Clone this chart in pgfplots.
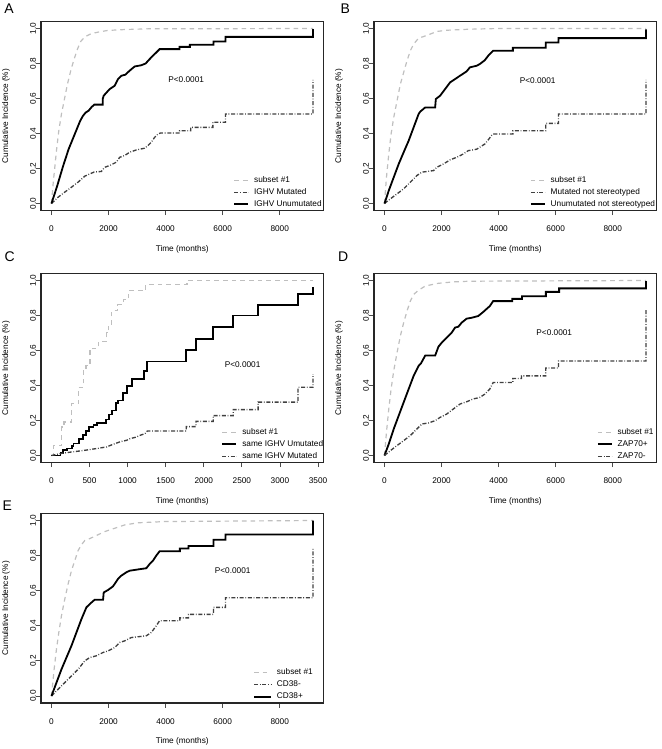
\documentclass[border=0pt]{standalone}
\usepackage{fontspec}
\setmainfont{Liberation Sans}
\usepackage{pgfplots}
\pgfplotsset{compat=1.18}

\tikzset{letter/.style={font=\fontsize{10.5}{12}\selectfont},
  frame/.style={black!85, line width=0.9pt, line cap=rect}}
\pgfplotsset{
  km/.style={
    scale only axis, width=211.875pt, height=141.75pt, anchor=south west,
    ymin=-0.04, ymax=1.04, ytick={0,0.2,0.4,0.6,0.8,1},
    separate axis lines,
    tick pos=left, tick align=outside, major tick length=3.5pt,
    every major tick/.append style={black!70, line width=0.6pt},
    axis line style={black!85, line width=0.9pt},
    font=\fontsize{6.2}{7.4}\selectfont,
    /pgf/number format/assume math mode=true,
    scaled ticks=false,
    xticklabel style={inner sep=0pt, anchor=north, /pgf/number format/1000 sep={}},
    yticklabel style={rotate=90, anchor=south, inner sep=0pt,
      /pgf/number format/.cd, fixed, fixed zerofill, precision=1},
    xticklabel shift=7.75pt, yticklabel shift=0pt,
    xlabel={Time (months)}, ylabel={Cumulative Incidence (\%)},
    xlabel style={at={(axis description cs:0.5,-0.2037)}, anchor=center, inner sep=0pt},
    ylabel style={at={(axis description cs:-0.124,0.5)}, anchor=center, inner sep=0pt},
    legend cell align=left,
    legend style={draw=none, fill=none, inner sep=0pt, row sep=0pt, column sep=3.75pt,
      nodes={inner xsep=0pt, inner ysep=1.15pt, text height=5pt, text depth=1.7pt}},
    legend image code/.code={\draw[##1] (0pt,0pt) -- (10.5pt,0pt);},
  },
  long/.style={xmin=-367, xmax=9533, xtick={0,2000,4000,6000,8000}},
  subset/.style={gray!50, line width=0.9pt, dash pattern=on 3.5pt off 3pt},
  mut/.style={black!75, line width=1pt, dash pattern=on 3pt off 1.3pt on 0.6pt off 1.3pt},
  unmut/.style={black, line width=1.35pt},
  longimg/.style={legend image code/.code={\draw[##1] (0pt,0pt) -- (12.75pt,0pt);}},
}

\begin{document}
\begin{tikzpicture}
\path[use as bounding box] (0,0) rectangle (495.75pt,561.75pt);
% panel frames
\draw[frame] (30.75pt,403.875pt) -- (242.625pt,403.875pt) -- (242.625pt,545.625pt) -- (30.75pt,545.625pt) -- (30.75pt,403.875pt);
\draw[frame] (280.5pt,403.875pt) -- (492.375pt,403.875pt) -- (492.375pt,545.625pt) -- (280.5pt,545.625pt) -- (280.5pt,403.875pt);
\draw[frame] (30.75pt,214.875pt) -- (242.625pt,214.875pt) -- (242.625pt,356.625pt) -- (30.75pt,356.625pt) -- (30.75pt,214.875pt);
\draw[frame] (280.5pt,214.875pt) -- (492.375pt,214.875pt) -- (492.375pt,356.625pt) -- (280.5pt,356.625pt) -- (280.5pt,214.875pt);
\draw[frame] (30.75pt,34.5pt) -- (242.625pt,34.5pt) -- (242.625pt,176.625pt) -- (30.75pt,176.625pt) -- (30.75pt,34.5pt);

% ---------------- A
\begin{axis}[km, long, at={(30.75pt,403.875pt)},
  legend style={at={(axis description cs:0.680,0)}, anchor=south west},
  extra description/.code={\node[letter] at (axis description cs:-0.113,1.070) {A};}]
\addplot[subset] coordinates {(0,0) (58,0.112) (175,0.302) (257,0.416) (350,0.511) (443,0.587)
  (560,0.682) (676,0.759) (793,0.825) (910,0.882) (1026,0.926) (1166,0.952) (1399,0.971)
  (1691,0.981) (1983,0.989) (2566,0.994) (3382,0.998) (9166,1.0)};
\addlegendentry{subset \#1}
\addplot[mut] coordinates {(0,0) (233,0.036) (466,0.065) (700,0.093) (933,0.122) (1166,0.156)
  (1399,0.173) (1500,0.18) (1749,0.183) (1866,0.207) (2041,0.217) (2274,0.236) (2391,0.264)
  (2566,0.274) (2741,0.293) (2974,0.306) (3265,0.316) (3382,0.331) (3499,0.35) (3615,0.378)
  (3732,0.397) (3825,0.403) (4490,0.403) (4490,0.416) (4880,0.416) (4880,0.435) (5656,0.435)
  (5656,0.464) (6099,0.464) (6099,0.511) (9166,0.511) (9166,0.707)};
\addlegendentry{IGHV Mutated}
\addplot[unmut] coordinates {(0,0) (200,0.10) (400,0.21) (600,0.31) (800,0.39) (1000,0.47)
  (1100,0.50) (1200,0.52) (1300,0.53) (1400,0.55) (1500,0.565) (1800,0.565) (1800,0.60)
  (1830,0.616) (2041,0.654) (2216,0.673) (2332,0.711) (2449,0.73) (2589,0.736) (2740,0.759)
  (2915,0.783) (3149,0.79) (3300,0.80) (3440,0.825) (3560,0.845) (3673,0.863) (3790,0.882)
  (4490,0.882) (4490,0.895) (4850,0.895) (4850,0.907) (5680,0.907) (5680,0.926) (6100,0.926)
  (6100,0.952) (9166,0.952) (9166,0.996)};
\addlegendentry{IGHV Unumutated}
\node at (axis cs:4720,0.71) {P<0.0001};
\end{axis}

% ---------------- B
\begin{axis}[km, long, at={(280.5pt,403.875pt)},
  legend style={at={(axis description cs:0.551,0)}, anchor=south west},
  extra description/.code={\node[letter] at (axis description cs:-0.102,1.070) {B};}]
\addplot[subset] coordinates {(0,0) (70,0.150) (151,0.283) (232,0.397) (325,0.492) (441,0.587)
  (557,0.682) (673,0.749) (789,0.816) (906,0.873) (1022,0.911) (1196,0.945) (1370,0.954)
  (1602,0.968) (1834,0.983) (2183,0.990) (2995,0.996) (4000,1.0) (9166,1.0)};
\addlegendentry{subset \#1}
\addplot[mut] coordinates {(0,0) (209,0.027) (441,0.055) (673,0.084) (906,0.122) (1138,0.160)
  (1312,0.179) (1718,0.188) (1834,0.207) (2067,0.226) (2299,0.249) (2531,0.264) (2763,0.283)
  (2937,0.302) (3228,0.310) (3518,0.340) (3634,0.363) (3750,0.388) (3831,0.397) (4500,0.397)
  (4500,0.416) (5650,0.416) (5650,0.458) (6100,0.458) (6100,0.511) (9166,0.511) (9166,0.707)};
\addlegendentry{Mutated not stereotyped}
\addplot[unmut] coordinates {(0,0) (151,0.074) (325,0.150) (499,0.226) (673,0.293) (848,0.359)
  (1022,0.435) (1196,0.511) (1254,0.525) (1428,0.549) (1776,0.549) (1800,0.597) (1951,0.616)
  (2125,0.654) (2299,0.692) (2473,0.711) (2647,0.730) (2879,0.755) (2995,0.778) (3228,0.787)
  (3344,0.797) (3518,0.819) (3634,0.844) (3808,0.873) (4500,0.873) (4500,0.89) (5650,0.89)
  (5650,0.92) (6100,0.92) (6100,0.945) (9166,0.945) (9166,0.995)};
\addlegendentry{Unumutated not stereotyped}
\node at (axis cs:5370,0.70) {P<0.0001};
\end{axis}

% ---------------- C
\begin{axis}[km, at={(30.75pt,214.875pt)},
  xmin=-137, xmax=3572, xtick={0,500,1000,1500,2000,2500,3000,3500},
  legend style={at={(axis description cs:0.638,0)}, anchor=south west},
  extra description/.code={\node[letter] at (axis description cs:-0.111,1.089) {C};}]
\addplot[subset, const plot] coordinates {(0,0) (26,0.055) (135,0.163) (166,0.191) (267,0.295)
  (354,0.389) (420,0.484) (455,0.512) (507,0.597) (542,0.612) (616,0.650) (726,0.701)
  (747,0.749) (791,0.828) (865,0.862) (944,0.890) (1010,0.941) (1240,0.977) (1780,1.0)
  (3435,1.0)};
\addlegendentry{subset \#1}
\addplot[unmut, const plot] coordinates {(0,0) (120,0.015) (149,0.030) (201,0.040) (267,0.055)
  (289,0.068) (367,0.093) (411,0.115) (455,0.140) (498,0.163) (551,0.176) (600,0.185)
  (717,0.206) (760,0.234) (791,0.257) (848,0.299) (878,0.314) (935,0.355) (997,0.399)
  (1053,0.437) (1215,0.484) (1259,0.537) (1770,0.603) (1897,0.664) (2124,0.733) (2386,0.800)
  (2714,0.860) (3238,0.922) (3435,0.962)};
\addlegendentry{same IGHV Umutated}
\addplot[mut] coordinates {(0,0) (114,0.011) (245,0.019) (376,0.026) (507,0.034) (638,0.043)
  (726,0.049) (769,0.057) (835,0.068) (900,0.078) (988,0.087) (1031,0.096) (1119,0.106)
  (1163,0.115) (1228,0.125) (1259,0.140) (1770,0.140) (1770,0.165) (1897,0.165) (1897,0.195)
  (2124,0.195) (2124,0.228) (2386,0.228) (2386,0.262) (2714,0.262) (2714,0.305) (3238,0.305)
  (3238,0.39) (3435,0.39) (3435,0.465)};
\addlegendentry{same IGHV Mutated}
\node at (axis cs:2510,0.517) {P<0.0001};
\end{axis}

% ---------------- D
\begin{axis}[km, long, at={(280.5pt,214.875pt)},
  legend style={at={(axis description cs:0.788,0)}, anchor=south west},
  extra description/.code={\node[letter] at (axis description cs:-0.109,1.089) {D};}]
\addplot[subset] coordinates {(0,0) (70,0.133) (151,0.266) (232,0.380) (325,0.484) (441,0.588)
  (557,0.683) (673,0.759) (789,0.825) (906,0.882) (1022,0.920) (1196,0.945) (1428,0.968)
  (1834,0.983) (2415,0.992) (2995,0.996) (9166,1.0)};
\addlegendentry{subset \#1}
\addplot[unmut] coordinates {(0,0) (151,0.066) (325,0.152) (499,0.228) (673,0.304) (848,0.380)
  (1022,0.455) (1196,0.512) (1277,0.526) (1428,0.571) (1776,0.571) (1892,0.622) (2009,0.645)
  (2183,0.674) (2357,0.702) (2473,0.731) (2589,0.736) (2705,0.759) (2879,0.782) (3054,0.787)
  (3286,0.797) (3460,0.820) (3692,0.854) (3808,0.882) (4480,0.882) (4480,0.895) (4820,0.895)
  (4820,0.91) (5656,0.91) (5656,0.935) (6120,0.935) (6120,0.955) (9166,0.955) (9166,0.996)};
\addlegendentry{ZAP70+}
\addplot[mut] coordinates {(0,0) (209,0.028) (441,0.057) (673,0.085) (906,0.114) (1138,0.152)
  (1312,0.180) (1544,0.186) (1776,0.199) (1951,0.218) (2183,0.237) (2415,0.266) (2647,0.294)
  (2879,0.307) (3112,0.323) (3344,0.332) (3518,0.351) (3692,0.380) (3808,0.417) (4500,0.417)
  (4500,0.44) (4800,0.44) (4800,0.455) (5650,0.455) (5650,0.50) (6100,0.50) (6100,0.54)
  (9166,0.54) (9166,0.83)};
\addlegendentry{ZAP70-}
\node at (axis cs:5950,0.70) {P<0.0001};
\end{axis}

% ---------------- E
\begin{axis}[km, long, longimg, at={(30.75pt,34.5pt)}, height=142.125pt,
  legend style={at={(axis description cs:0.750,0)}, anchor=south west},
  extra description/.code={\node[letter] at (axis description cs:-0.119,1.043) {E};}]
\addplot[subset] coordinates {(0,0) (93,0.152) (175,0.267) (257,0.362) (350,0.457) (466,0.552)
  (583,0.638) (700,0.714) (816,0.771) (933,0.829) (1050,0.861) (1166,0.886) (1259,0.891)
  (1516,0.910) (1866,0.937) (2216,0.956) (2566,0.975) (3032,0.987) (3965,0.994) (9166,1.0)};
\addlegendentry{subset \#1}
\addplot[mut] coordinates {(0,0) (233,0.038) (466,0.076) (700,0.114) (933,0.152) (1166,0.200)
  (1341,0.219) (1574,0.229) (1808,0.248) (1983,0.257) (2216,0.276) (2391,0.305) (2566,0.314)
  (2799,0.333) (3324,0.343) (3499,0.362) (3673,0.400) (3790,0.429) (4500,0.429) (4500,0.445)
  (4800,0.445) (4800,0.465) (5680,0.465) (5680,0.505) (6100,0.505) (6100,0.56) (9166,0.56)
  (9166,0.84)};
\addlegendentry{CD38-}
\addplot[unmut] coordinates {(0,0) (175,0.076) (350,0.152) (525,0.219) (700,0.286) (875,0.362)
  (1050,0.438) (1224,0.505) (1341,0.524) (1516,0.549) (1808,0.549) (1831,0.590) (1983,0.604)
  (2157,0.625) (2332,0.667) (2449,0.686) (2624,0.705) (2741,0.714) (3149,0.724) (3324,0.728)
  (3440,0.752) (3557,0.771) (3673,0.800) (3790,0.825) (4500,0.825) (4500,0.84) (4800,0.84)
  (4800,0.855) (5680,0.855) (5680,0.89) (6100,0.89) (6100,0.92) (9166,0.92) (9166,1.0)};
\addlegendentry{CD38+}
\node at (axis cs:6350,0.714) {P<0.0001};
\end{axis}
\end{tikzpicture}
\end{document}
